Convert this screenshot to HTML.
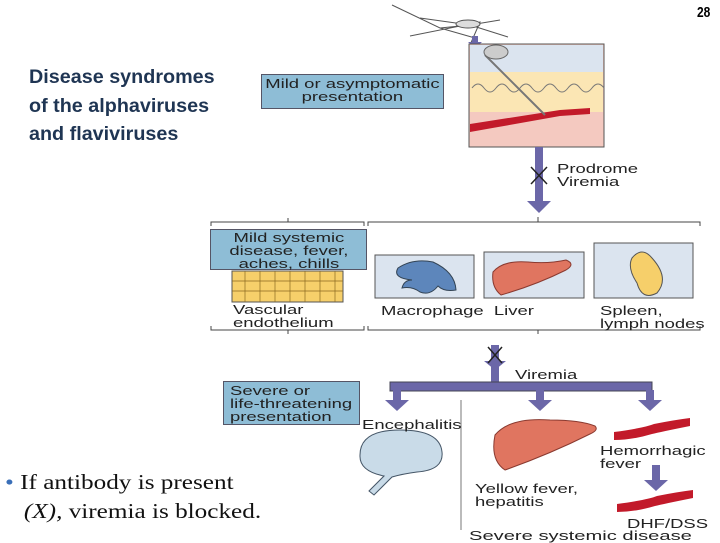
<!DOCTYPE html>
<html><head><meta charset="utf-8"><style>
body{margin:0;width:720px;height:540px;background:#fff;position:relative;overflow:hidden;font-family:"Liberation Sans",sans-serif}
.a{position:absolute;white-space:nowrap}
.s{font-size:13px;color:#222;line-height:13px;transform:scaleX(1.42);transform-origin:left top}
.box{position:absolute;background:#8ebdd6;border:1px solid #556;text-align:center;font-size:13px;line-height:13px;color:#222}
.box span{display:inline-block;transform:scaleX(1.42);transform-origin:center top}
</style></head><body>
<div class="a" style="left:697px;top:4px;font-weight:bold;font-size:15px;transform:scaleX(.8);transform-origin:left">28</div>
<div class="a" style="left:29px;top:64px;font-size:19px;font-weight:bold;line-height:28.5px;color:#1f3553;transform:scaleX(1.04);transform-origin:left">Disease syndromes<br>of the alphaviruses<br>and flaviviruses</div>
<div class="box" style="left:261px;top:74px;width:181px;height:31px;padding-top:2px"><span>Mild or asymptomatic<br>presentation</span></div>
<div class="box" style="left:210px;top:229px;width:155px;height:38px;padding-top:1px"><span>Mild systemic<br>disease, fever,<br>aches, chills</span></div>
<div class="box" style="left:223px;top:381px;width:129px;height:40px;text-align:left;padding:2px 0 0 6px"><span style="transform-origin:left top">Severe or<br>life-threatening<br>presentation</span></div>
<svg class="a" style="left:0;top:0" width="720" height="540">
<g stroke="#555" fill="none" stroke-width="1">
<path d="M392 5 L440 28 L470 25 L500 20 M420 18 L470 25 L508 37 M410 36 L480 22 L470 45 M440 28 L475 38"/>
<ellipse cx="468" cy="24" rx="12" ry="4" fill="#ddd"/>
</g>
<polygon points="472,36 478,36 478,42 482,42 475,48 468,42 472,42" fill="#6b67a8"/>
<rect x="469" y="44" width="135" height="103" fill="#f4c9c0" stroke="#555"/>
<rect x="470" y="45" width="133" height="27" fill="#dbe4ef"/>
<rect x="470" y="72" width="133" height="40" fill="#fbe6b4"/>
<path d="M472 88 q6 -8 12 0 t12 0 t12 0 t12 0 t12 0 t12 0 t12 0 t12 0 t12 0 t12 0 t12 0" stroke="#777" fill="none"/>
<path d="M470 124 L560 110 L590 108 L590 114 L560 116 L470 132Z" fill="#c21a2a"/>
<path d="M485 55 L545 115" stroke="#777" stroke-width="2"/>
<ellipse cx="496" cy="52" rx="12" ry="7" fill="#ccc" stroke="#666"/>
<rect x="535" y="147" width="8" height="55" fill="#6b67a8"/>
<polygon points="527,201 551,201 539,213" fill="#6b67a8"/>
<path d="M531 167 L547 184 M547 167 L531 184" stroke="#222" stroke-width="1.5"/>
<g stroke="#444" stroke-width="1" fill="none">
<path d="M211 226 V222 H364 V226 M288 222 V218 M368 226 V222 H700 V226 M538 222 V217"/>
<path d="M211 326 V330 H364 V326 M288 330 V334 M368 326 V330 H700 V326 M538 330 V334"/>
</g>
<rect x="232" y="271" width="111" height="31" fill="#f6cf6a" stroke="#555"/>
<g stroke="#8a6a20" fill="none" stroke-width=".7">
<path d="M232 281 H343 M232 291 H343"/>
<path d="M245 271 v31 M260 271 v31 M275 271 v31 M290 271 v31 M305 271 v31 M320 271 v31 M335 271 v31"/>
</g>
<rect x="375" y="255" width="99" height="43" fill="#dbe4ef" stroke="#555"/>
<rect x="484" y="252" width="100" height="46" fill="#dbe4ef" stroke="#555"/>
<rect x="594" y="243" width="99" height="55" fill="#dbe4ef" stroke="#555"/>
<path d="M398 268 q15 -10 35 -6 q22 10 23 28 q-12 2 -18 -4 q-8 10 -18 6 q-8 -6 -18 -4 q2 -8 10 -8 q-20 -2 -14 -12z" fill="#5d86bb" stroke="#345"/>
<path d="M493 272 q10 -12 35 -10 q20 2 38 -2 q10 4 0 10 q-30 15 -65 25 q-10 -8 -8 -23z" fill="#e07560" stroke="#8a3a30"/>
<path d="M632 258 q10 -12 20 0 q18 20 5 35 q-15 8 -20 -10 q-10 -15 -5 -25z" fill="#f6cf6a" stroke="#555"/>
<rect x="491" y="345" width="8" height="38" fill="#6b67a8"/>
<polygon points="484,361 506,361 495,370" fill="#6b67a8"/>
<path d="M488 347 L502 363 M502 347 L488 363" stroke="#222" stroke-width="1.5"/>
<rect x="390" y="382" width="262" height="9" fill="#6b67a8" stroke="#445"/>
<g fill="#6b67a8"><rect x="393" y="390" width="8" height="11"/><polygon points="385,400 409,400 397,411"/>
<rect x="536" y="390" width="8" height="11"/><polygon points="528,400 552,400 540,411"/>
<rect x="646" y="390" width="8" height="11"/><polygon points="638,400 662,400 650,411"/>
<rect x="652" y="465" width="8" height="16"/><polygon points="644,480 668,480 656,491"/></g>
<line x1="461" y1="400" x2="461" y2="530" stroke="#777"/>
<path d="M360 455 q0 -25 40 -25 q40 0 42 22 q2 18 -25 20 q-15 2 -25 5 l-18 18 l-5 -4 l15 -15 q-25 -5 -24 -21z" fill="#c9dbe8" stroke="#456"/>
<path d="M495 435 q15 -18 55 -15 q30 0 45 6 q4 4 -5 8 q-40 20 -85 36 q-15 -10 -10 -35z" fill="#e07560" stroke="#8a3a30"/>
<path d="M614 432 q30 -4 40 -8 q20 -4 36 -6 l0 8 q-30 6 -38 8 q-20 6 -38 6z" fill="#c21a2a"/>
<path d="M617 504 q30 -4 40 -8 q20 -4 36 -6 l0 8 q-30 6 -38 8 q-20 6 -38 6z" fill="#c21a2a"/>
</svg>
<div class="a s" style="left:557px;top:162px">Prodrome<br>Viremia</div>
<div class="a s" style="left:233px;top:303px">Vascular<br>endothelium</div>
<div class="a s" style="left:381px;top:304px">Macrophage&nbsp; Liver</div>
<div class="a s" style="left:600px;top:304px">Spleen,<br>lymph nodes</div>
<div class="a s" style="left:515px;top:368px">Viremia</div>
<div class="a s" style="left:362px;top:418px">Encephalitis</div>
<div class="a s" style="left:600px;top:444px">Hemorrhagic<br>fever</div>
<div class="a s" style="left:475px;top:482px">Yellow fever,<br>hepatitis</div>
<div class="a s" style="left:627px;top:517px">DHF/DSS</div>
<div class="a s" style="left:469px;top:529px;transform:scaleX(1.55)">Severe systemic disease</div>
<div class="a" style="left:5px;top:468px;font-family:'Liberation Serif',serif;font-size:21px;line-height:29px;color:#111;transform:scaleX(1.2);transform-origin:left top"><span style="color:#3a6fb8">•</span> If antibody is present<br>&nbsp;&nbsp; <i>(X),</i> viremia is blocked.</div>
</body></html>
